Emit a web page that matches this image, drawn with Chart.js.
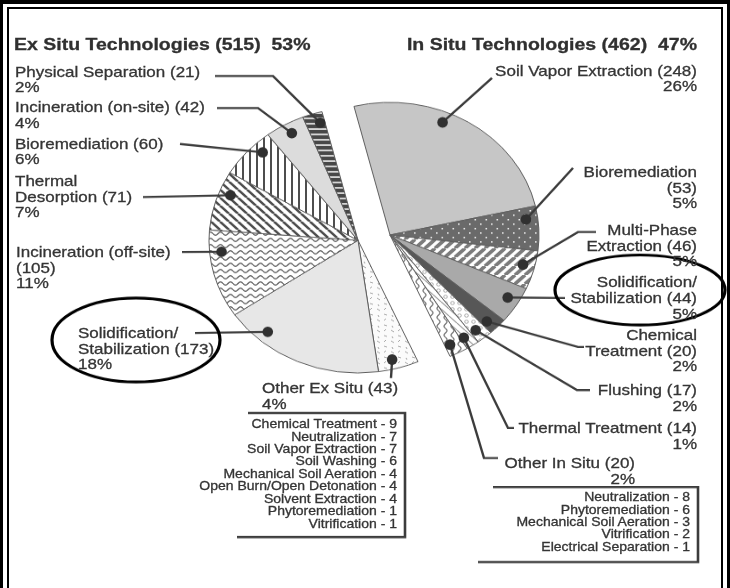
<!DOCTYPE html>
<html><head><meta charset="utf-8">
<script src="https://cdn.jsdelivr.net/npm/chart.js@4.4.1/dist/chart.umd.min.js"></script>
<style>
html,body{margin:0;padding:0;background:#fff;width:730px;height:588px;overflow:hidden;position:relative;}
#wrap{position:absolute;left:0;top:0;width:730px;height:661px;transform:scale(1,0.89);transform-origin:0 0;}
.lbl{position:absolute;font-family:"Liberation Sans",Arial,Helvetica,sans-serif;color:#353535;white-space:pre;-webkit-text-stroke:0.35px #353535;}
#wrap canvas{position:absolute;}
.fr{position:absolute;background:#000;}
</style></head><body>
<div id="wrap"></div>
<div class="fr" style="left:0;top:0;width:730px;height:4px"></div>
<div class="fr" style="left:0;top:0;width:3px;height:588px"></div>
<div class="fr" style="left:727px;top:0;width:3px;height:588px"></div>
<div class="fr" style="left:7px;top:7px;width:716px;height:2px"></div>
<div class="fr" style="left:7px;top:7px;width:2px;height:581px"></div>
<div class="fr" style="left:721px;top:7px;width:2px;height:581px"></div>
<script>
// ---------------- DATA ----------------
const exTitle = "Ex Situ Technologies";
const exCount = 515;
const exShare = 53;
const inTitle = "In Situ Technologies";
const inCount = 462;
const inShare = 47;

// ex situ categories, listed top to bottom as labelled
const exNames = ["Physical Separation", "Incineration (on-site)", "Bioremediation", "Thermal\nDesorption", "Incineration (off-site)", "Solidification/\nStabilization", "Other Ex Situ"];
const exValues = [21, 42, 60, 71, 105, 173, 43];
const exPct = [2, 4, 6, 7, 11, 18, 4];

// in situ categories, clockwise from the top
const inNames = ["Soil Vapor Extraction", "Bioremediation", "Multi-Phase\nExtraction", "Solidification/\nStabilization", "Chemical\nTreatment", "Flushing", "Thermal Treatment", "Other In Situ"];
const inValues = [248, 53, 46, 44, 20, 17, 14, 20];
const inPct = [26, 5, 5, 5, 2, 2, 1, 2];

const exOtherItems = ["Chemical Treatment", "Neutralization", "Soil Vapor Extraction", "Soil Washing", "Mechanical Soil Aeration", "Open Burn/Open Detonation", "Solvent Extraction", "Phytoremediation", "Vitrification"];
const exOtherCounts = [9, 7, 7, 6, 4, 4, 4, 1, 1];
const inOtherItems = ["Neutralization", "Phytoremediation", "Mechanical Soil Aeration", "Vitrification", "Electrical Separation"];
const inOtherCounts = [8, 6, 3, 2, 1];

// ---------------- STYLE / LAYOUT ----------------
const S = 0.89;             // vertical squash of the original figure
const U = y => y / S;
const wrap = document.getElementById('wrap');
const pc = document.createElement('canvas').getContext('2d');
function pat(w, h, fn) { const c = document.createElement('canvas'); c.width = w; c.height = h; const x = c.getContext('2d'); fn(x, w, h); return pc.createPattern(c, 'repeat'); }
function lines(x, w, h, dir, col, lw) {
  x.strokeStyle = col; x.lineWidth = lw; x.beginPath();
  for (let k = -1; k <= 1; k++) {
    if (dir === '\\') { x.moveTo(k * w, 0); x.lineTo(k * w + w, h); }
    else { x.moveTo(k * w, h); x.lineTo(k * w + w, 0); }
  }
  x.stroke();
}
const fPhys = pat(6, 6, (x, w, h) => { x.fillStyle = '#474747'; x.fillRect(0, 0, w, h); x.fillStyle = '#d4d4d4'; x.fillRect(0, 3, w, 2); });
const fIncOn = '#dcdcdc';
const fBioEx = pat(7, 7, (x, w, h) => { x.fillStyle = '#fff'; x.fillRect(0, 0, w, h); x.fillStyle = '#4e4e4e'; x.fillRect(0, 0, 2, h); });
const fThDes = pat(9, 9, (x, w, h) => { x.fillStyle = '#fff'; x.fillRect(0, 0, w, h); lines(x, w, h, '\\', '#4e4e4e', 2.6); });
const fIncOff = pat(10, 7, (x, w, h) => { x.fillStyle = '#fff'; x.fillRect(0, 0, w, h); x.strokeStyle = '#666'; x.lineWidth = 1.4; x.beginPath(); for (let i = 0; i <= 20; i++) { const xx = i / 2; const yy = 3.5 + 1.7 * Math.sin(2 * Math.PI * xx / 10); if (i === 0) x.moveTo(xx, yy); else x.lineTo(xx, yy); } x.stroke(); });
const fSSEx = '#e7e7e7';
const fOthEx = pat(14, 12, (x, w, h) => { x.fillStyle = '#fbfbfb'; x.fillRect(0, 0, w, h); x.strokeStyle = '#a4a4a4'; x.lineWidth = 1; x.beginPath(); x.moveTo(2, 2); x.lineTo(5, 4); x.moveTo(9, 8); x.lineTo(12, 9); x.moveTo(9, 3); x.lineTo(11, 1); x.moveTo(3, 9); x.lineTo(4, 11); x.stroke(); });
const exFills = [fPhys, fIncOn, fBioEx, fThDes, fIncOff, fSSEx, fOthEx];

const fSVE = '#c6c6c6';
const fBioIn = pat(11, 10, (x, w, h) => { x.fillStyle = '#6a6a6a'; x.fillRect(0, 0, w, h); x.fillStyle = '#f0f0f0'; x.fillRect(2, 2, 1.6, 1.6); x.fillRect(7.5, 7, 1.6, 1.6); });
const fMPE = pat(10, 10, (x, w, h) => { x.fillStyle = '#fff'; x.fillRect(0, 0, w, h); lines(x, w, h, '/', '#7c7c7c', 3.8); });
const fSSIn = '#a9a9a9';
const fChem = '#575757';
const fFlush = pat(7, 7, (x, w, h) => { x.fillStyle = '#fff'; x.fillRect(0, 0, w, h); x.strokeStyle = '#a8a8a8'; x.lineWidth = 1; x.beginPath(); x.arc(3.5, 3.5, 1.8, 0, Math.PI * 2); x.stroke(); });
const fThIn = pat(8, 8, (x, w, h) => { x.fillStyle = '#fff'; x.fillRect(0, 0, w, h); lines(x, w, h, '\\', '#9a9a9a', 1.2); });
const fOthIn = pat(7, 10, (x, w, h) => { x.fillStyle = '#fff'; x.fillRect(0, 0, w, h); x.strokeStyle = '#707070'; x.lineWidth = 1.2; x.beginPath(); for (let i = 0; i <= 20; i++) { const yy = i / 2; const xx = 3.5 + 1.5 * Math.sin(2 * Math.PI * yy / 10); if (i === 0) x.moveTo(xx, yy); else x.lineTo(xx, yy); } x.stroke(); });
const inFills = [fSVE, fBioIn, fMPE, fSSIn, fChem, fFlush, fThIn, fOthIn];

// label layout (image coords): x, cap-top of first line, dot position inside slice, leader path
const exLayout = [
  { x: 15, cap: 66, f: 0.74, r: 0.92, path: [[273, 76], [215, 76]] },
  { x: 15, cap: 102, f: 0.54, r: 0.92, path: [[258, 108], [217, 108]] },
  { x: 15, cap: 138, f: 0.69, r: 0.92, path: [[180, 144]] },
  { x: 15, cap: 176, f: 0.65, r: 0.92, path: [[143, 197]] },
  { x: 16, cap: 247, f: 0.74, r: 0.92, nl: true, path: [[182, 252]] },
  { x: 78, cap: 328, f: 0.77, r: 0.92, path: [[195, 333]] },
  { x: 262, cap: 383, f: 0.6, r: 0.93, path: [[391, 378]] }
];
const inLayout = [
  { x: 697, cap: 65, f: 0.40, r: 0.92, path: [[492, 78]] },
  { x: 697, cap: 167, f: 0.27, r: 0.92, nl: true, path: [[573, 168]] },
  { x: 697, cap: 225, f: 0.42, r: 0.92, path: [[578, 232], [596, 232]] },
  { x: 697, cap: 277, f: 0.43, r: 0.92, path: [[565, 298]] },
  { x: 697, cap: 330, f: 0.68, r: 0.92, path: [[578, 347], [584, 347]] },
  { x: 697, cap: 385, f: 0.62, r: 0.92, path: [[577, 390], [590, 390]] },
  { x: 697, cap: 423, f: 0.72, r: 0.92, path: [[508, 428], [514, 428]] },
  { x: 635, cap: 458, f: 0.70, r: 0.92, path: [[484, 458], [498, 458]] }
];

// ---------------- CHART ----------------
const allNames = inNames.concat(exNames.slice().reverse());
const allValues = inValues.concat(exValues.slice().reverse());
const allFills = inFills.concat(exFills.slice().reverse());
const nIn = inValues.length;
const CS = 330, R = 149;
function makePie(center, visible) {
  const cv = document.createElement('canvas');
  cv.width = CS; cv.height = CS;
  const left = center[0] - CS / 2, top = U(center[1]) - CS / 2;
  cv.style.left = left + 'px'; cv.style.top = top + 'px';
  wrap.appendChild(cv);
  const ch = new Chart(cv.getContext('2d'), {
    type: 'pie',
    data: { labels: allNames.map(s => s.replace('\n', ' ')), datasets: [{
      data: allValues,
      backgroundColor: allFills.map((f, i) => visible(i) ? f : 'rgba(0,0,0,0)'),
      borderColor: allFills.map((f, i) => visible(i) ? '#5e5e5e' : 'rgba(0,0,0,0)'),
      borderWidth: allFills.map((f, i) => visible(i) ? 1 : 0)
    }] },
    options: { responsive: false, animation: false, radius: R, rotation: -14, events: [],
      layout: { padding: 0 }, plugins: { legend: { display: false }, tooltip: { enabled: false }, title: { display: false } } }
  });
  return { ch, left, top };
}
const exPie = makePie([358, 240], i => i >= nIn);
const inPie = makePie([390, 235], i => i < nIn);

// ---------------- OVERLAY (leaders, boxes, ovals) ----------------
const ov = document.createElement('canvas'); ov.width = 730; ov.height = 661; ov.style.left = '0px'; ov.style.top = '0px';
wrap.appendChild(ov);
const g = ov.getContext('2d');
function slicePt(p, idx, f, rf) {
  const a = p.ch.getDatasetMeta(0).data[idx].getProps(['x', 'y', 'startAngle', 'endAngle', 'outerRadius'], true);
  const ang = a.startAngle + (a.endAngle - a.startAngle) * f;
  const r = a.outerRadius * rf;
  return [p.left + a.x + r * Math.cos(ang), p.top + a.y + r * Math.sin(ang)];
}
function leader(pt, path) {
  g.strokeStyle = '#3c3c3c'; g.lineWidth = 2.4; g.lineJoin = 'miter';
  g.beginPath(); g.moveTo(pt[0], pt[1]);
  path.forEach(q => g.lineTo(q[0], U(q[1])));
  g.stroke();
  g.fillStyle = '#303030'; g.beginPath(); g.ellipse(pt[0], pt[1], 5.3, 5.3 / S, 0, 0, Math.PI * 2); g.fill();
}
exLayout.forEach((L, j) => leader(slicePt(exPie, nIn + (exValues.length - 1 - j), L.f, L.r), L.path));
inLayout.forEach((L, i) => leader(slicePt(inPie, i, L.f, L.r), L.path));

function seg(pts) { g.strokeStyle = '#3c3c3c'; g.lineWidth = 2.6; g.lineJoin = 'miter'; g.beginPath(); pts.forEach((q, k) => k ? g.lineTo(q[0], U(q[1])) : g.moveTo(q[0], U(q[1]))); g.stroke(); }
seg([[248, 413], [405, 413], [405, 537], [237, 537]]);
seg([[493, 487], [698, 487], [698, 562], [478, 562]]);

g.strokeStyle = '#000'; g.lineWidth = 3.2;
g.beginPath(); g.ellipse(136, U(340), 84, 42 / S, 0, 0, Math.PI * 2); g.stroke();
g.beginPath(); g.ellipse(640, U(290), 85, 35 / S, 0, 0, Math.PI * 2); g.stroke();

// ---------------- TEXT ----------------
function addText(txt, x, cap, align, fs, lh, weight, color) {
  const d = document.createElement('div');
  d.className = 'lbl'; d.textContent = txt;
  d.style.fontSize = fs + 'px'; d.style.lineHeight = lh + 'px'; d.style.fontWeight = weight || 'normal';
  if (color) { d.style.color = color; d.style.webkitTextStroke = '0.35px ' + color; }
  const off = lh / 2 - 0.3695 * fs;
  d.style.top = (U(cap) - off) + 'px';
  if (align === 'right') { d.style.right = (730 - x) + 'px'; d.style.textAlign = 'right'; }
  else d.style.left = x + 'px';
  wrap.appendChild(d);
}
addText(exTitle + " (" + exCount + ")  " + exShare + "%", 14, 37, 'left', 19.5, 20, 'bold', '#303030');
addText(inTitle + " (" + inCount + ")  " + inShare + "%", 697, 37, 'right', 19.5, 20, 'bold', '#303030');
exLayout.forEach((L, j) => addText(exNames[j] + (L.nl ? "\n" : " ") + "(" + exValues[j] + ")\n" + exPct[j] + "%", L.x, L.cap, 'left', 17, 17.5));
inLayout.forEach((L, i) => addText(inNames[i] + (L.nl ? "\n" : " ") + "(" + inValues[i] + ")\n" + inPct[i] + "%", L.x, L.cap, 'right', 17, 17.5));
addText(exOtherItems.map((s, k) => s + " - " + exOtherCounts[k]).join("\n"), 397, 419, 'right', 14, 14, 'normal', '#353535');
addText(inOtherItems.map((s, k) => s + " - " + inOtherCounts[k]).join("\n"), 690, 493, 'right', 14, 13.85, 'normal', '#353535');
</script>
</body></html>
